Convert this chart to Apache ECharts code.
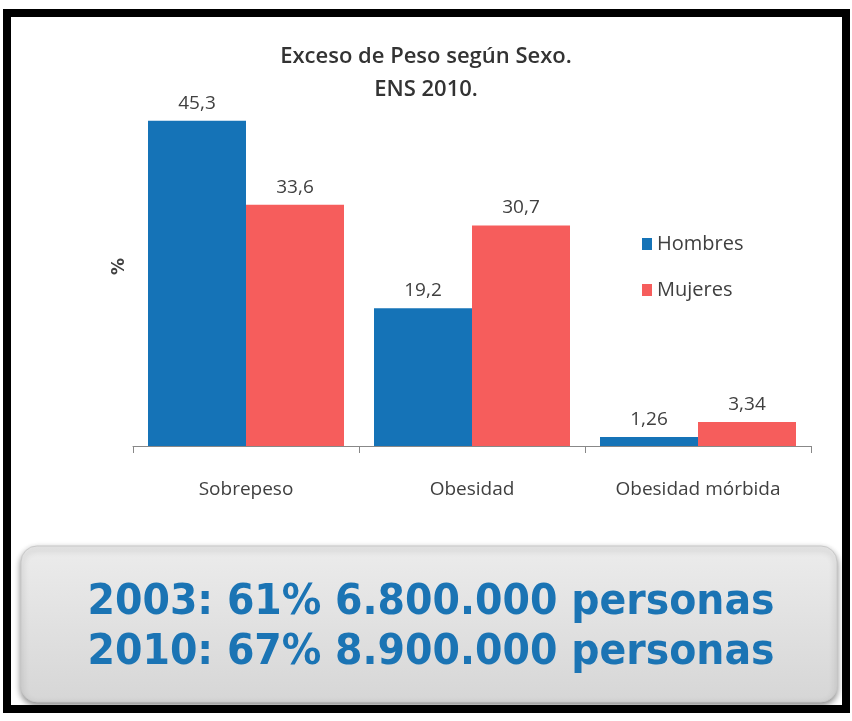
<!DOCTYPE html>
<html><head><meta charset="utf-8">
<script src="https://cdn.jsdelivr.net/npm/echarts@6/dist/echarts.min.js"></script>
<style>html,body{margin:0;padding:0;background:#fff}#c{width:852px;height:721px}</style>
</head><body><div id="c"></div>
<script>
const categories = ['Sobrepeso', 'Obesidad', 'Obesidad mórbida'];
const hombres = [45.3, 19.2, 1.26];
const mujeres = [33.6, 30.7, 3.34];
const seriesNames = ['Hombres', 'Mujeres'];
const titleLines = ['Exceso de Peso según Sexo.', 'ENS 2010.'];
const boxLines = ['2003: 61% 6.800.000 personas', '2010: 67% 8.900.000 personas'];

const fmt = v => String(v).replace('.', ',');
const chart = echarts.init(document.getElementById('c'));
const labelStyle = {show: true, position: 'top', distance: 8, color: '#404040', fontSize: 19, fontFamily: 'Open Sans', formatter: p => fmt(p.value)};
chart.setOption({
  animation: false,
  title: {text: titleLines.join('\n'), left: 'center', top: 35, textStyle: {fontFamily: 'Open Sans', fontWeight: 600, fontSize: 22, color: '#333', lineHeight: 33}},
  legend: {orient: 'vertical', left: 637, top: 229, itemWidth: 10, itemHeight: 12, itemGap: 26, icon: 'rect',
    textStyle: {fontFamily: 'Open Sans', fontSize: 20, color: '#404040'}, data: seriesNames},
  grid: {left: 133, right: 41, top: 87, height: 359},
  xAxis: {type: 'category', data: categories,
    axisLine: {lineStyle: {color: '#888', width: 1}},
    axisTick: {show: true, length: 7, lineStyle: {color: '#888'}},
    axisLabel: {margin: 34, color: '#404040', fontSize: 19, fontFamily: 'Open Sans'}},
  yAxis: {type: 'value', min: 0, max: 50, name: '%', nameLocation: 'middle', nameGap: 5, nameRotate: 90,
    nameTextStyle: {fontFamily: 'DejaVu Sans', fontWeight: 'bold', fontSize: 17, color: '#404040'},
    axisLine: {show: false}, axisTick: {show: false}, axisLabel: {show: false}, splitLine: {show: false}},
  series: [
    {name: seriesNames[0], type: 'bar', data: hombres, barWidth: 98, barGap: '0%',
      itemStyle: {color: '#1573b7'}, label: labelStyle},
    {name: seriesNames[1], type: 'bar', data: mujeres, barWidth: 98,
      itemStyle: {color: '#f65d5c'}, label: labelStyle}
  ],
  graphic: [
    {type: 'rect', shape: {x: 7, y: 13, width: 839, height: 696}, style: {fill: 'none', stroke: '#000', lineWidth: 8}, z: 100},
    {type: 'rect', shape: {x: 21, y: 546, width: 816, height: 156, r: 16},
      style: {fill: new echarts.graphic.LinearGradient(0, 0, 0, 1, [{offset: 0, color: '#ececec'}, {offset: 1, color: '#d6d6d6'}]),
        stroke: '#c8c8c8', lineWidth: 1, shadowBlur: 6, shadowOffsetY: 3, shadowColor: 'rgba(0,0,0,0.45)'}, z: 10},
    {type: 'text', x: 431, y: 603, scaleX: 0.94, z: 11,
      style: {text: boxLines[0], fill: '#1b74b4', font: 'bold 42px "DejaVu Sans"', textAlign: 'center', textVerticalAlign: 'middle'}},
    {type: 'text', x: 431, y: 653, scaleX: 0.94, z: 11,
      style: {text: boxLines[1], fill: '#1b74b4', font: 'bold 42px "DejaVu Sans"', textAlign: 'center', textVerticalAlign: 'middle'}}
  ]
});
</script></body></html>
